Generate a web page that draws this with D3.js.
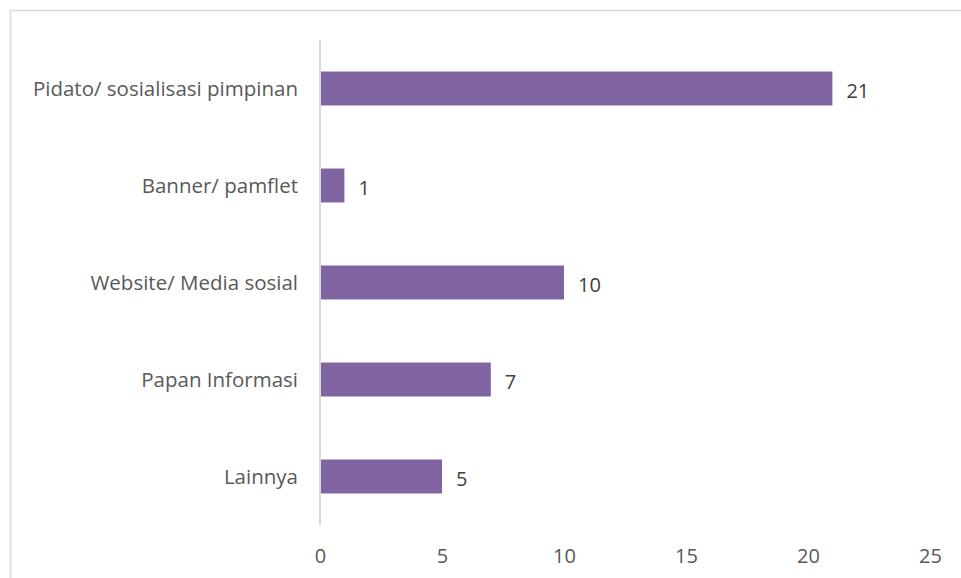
<!DOCTYPE html>
<html>
<head>
<meta charset="utf-8">
<script src="https://cdn.jsdelivr.net/npm/d3@7"></script>
<style>
  body { margin: 0; background: #fff; }
  text { font-family: "Open Sans", "Noto Sans", sans-serif; }
</style>
</head>
<body>
<svg width="961" height="578"></svg>
<script>
var categories = ["Pidato/ sosialisasi pimpinan", "Banner/ pamflet", "Website/ Media sosial", "Papan Informasi", "Lainnya"],
    values = [21, 1, 10, 7, 5],
    ticks = [0, 5, 10, 15, 20, 25];

var svg = d3.select("svg");

// chart border
svg.append("rect")
    .attr("x", 10.5)
    .attr("y", 10.5)
    .attr("width", 1000)
    .attr("height", 1000)
    .attr("fill", "none")
    .attr("stroke", "#d9d9d9")
    .attr("stroke-width", 1.5);

var x = d3.scaleLinear()
    .domain([0, 25])
    .range([320, 930]);

var y = d3.scaleBand()
    .domain(categories)
    .range([40, 525])
    .paddingInner(0.65)
    .paddingOuter(0.325);

// bars
svg.selectAll("rect.bar")
    .data(values)
    .enter().append("rect")
    .attr("class", "bar")
    .attr("x", x(0))
    .attr("y", function(d, i) { return y(categories[i]); })
    .attr("width", function(d) { return x(d) - x(0); })
    .attr("height", y.bandwidth())
    .attr("fill", "#8064a2");

// vertical axis line
svg.append("line")
    .attr("x1", x(0))
    .attr("x2", x(0))
    .attr("y1", 40)
    .attr("y2", 525)
    .attr("stroke", "#d9d9d9")
    .attr("stroke-width", 2);

// x axis
var xAxis = svg.append("g")
    .attr("transform", "translate(0,556)")
    .call(d3.axisBottom(x).tickValues(ticks).tickSize(0).tickPadding(0));
xAxis.select(".domain").remove();
xAxis.selectAll("text")
    .attr("dy", "0.35em")
    .attr("fill", "#595959")
    .style("font-size", "20px");

// category labels
svg.selectAll("text.cat")
    .data(categories)
    .enter().append("text")
    .attr("class", "cat")
    .attr("x", 298)
    .attr("y", function(d) { return y(d) + y.bandwidth() / 2; })
    .attr("dy", "0.35em")
    .attr("text-anchor", "end")
    .attr("fill", "#595959")
    .style("font-size", "20.5px")
    .text(function(d) { return d; });

// value labels
svg.selectAll("text.val")
    .data(values)
    .enter().append("text")
    .attr("class", "val")
    .attr("x", function(d) { return x(d) + 14; })
    .attr("y", function(d, i) { return y(categories[i]) + y.bandwidth() / 2 + 2; })
    .attr("dy", "0.35em")
    .attr("fill", "#404040")
    .style("font-size", "20px")
    .text(function(d) { return d; });
</script>
</body>
</html>
